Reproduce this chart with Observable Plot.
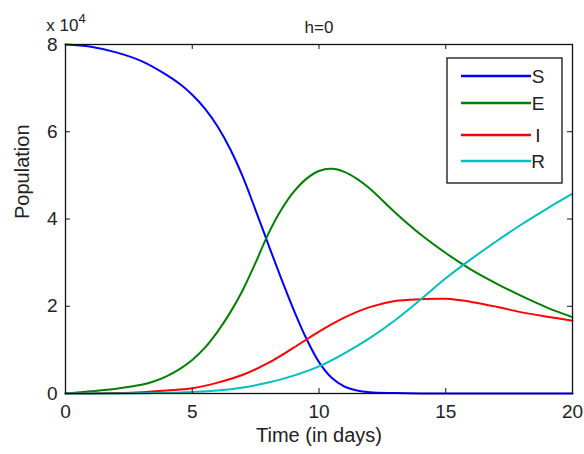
<!DOCTYPE html>
<html>
<head>
<meta charset="utf-8">
<script src="https://cdn.jsdelivr.net/npm/d3@7"></script>
<script src="https://cdn.jsdelivr.net/npm/@observablehq/plot@0.6"></script>
<style>
  html, body { margin: 0; padding: 0; background: #fff; }
  #chart { width: 584px; height: 454px; }
</style>
</head>
<body>
<div id="chart"></div>
<script>
// Time in days and population (in units of 10^4), per series
const tS = [0,1,2,3,4,4.5,5,5.5,6,6.5,7,7.5,8,8.5,9,9.5,10,10.5,11,11.5,12,13,14,16,18,20];
const S  = [8.0,7.95,7.82,7.62,7.3,7.1,6.85,6.53,6.12,5.6,4.96,4.2,3.42,2.65,1.92,1.26,0.72,0.36,0.16,0.07,0.03,0.01,0,0,0,0];
const tE = [0,1,2,3,3.5,4,4.5,5,5.5,6,6.5,7,7.5,8,8.5,9,9.5,10,10.5,11,11.5,12,13,14,15,16,17,18,19,20];
const E  = [0,0.05,0.11,0.2,0.28,0.4,0.56,0.77,1.05,1.42,1.86,2.38,3.0,3.66,4.2,4.62,4.92,5.1,5.15,5.08,4.92,4.7,4.15,3.65,3.22,2.84,2.52,2.23,1.97,1.75];
const tI = [0,1,2,3,4,5,6,7,8,9,10,11,12,13,14,15,16,17,18,19,20];
const I  = [0,0,0.01,0.03,0.07,0.12,0.25,0.43,0.7,1.05,1.42,1.74,1.98,2.12,2.16,2.17,2.1,1.99,1.86,1.76,1.67];
const tR = [0,1,2,3,4,5,6,7,8,9,10,11,12,13,14,15,16,17,18,19,20];
const R  = [0,0,0,0.005,0.015,0.035,0.07,0.14,0.25,0.41,0.62,0.92,1.27,1.68,2.15,2.64,3.08,3.49,3.88,4.24,4.58];

const seriesNames = ["S","E","I","R"];
const seriesColors = ["#0000ff","#008000","#ff0000","#00bfbf"];
const xTicks = [0,5,10,15,20];
const yTicks = [0,2,4,6,8];
const titleText = "h=0";
const xLabel = "Time (in days)";
const yLabel = "Population";

const series = {S: [tS, S], E: [tE, E], I: [tI, I], R: [tR, R]};
const data = seriesNames.flatMap(name => series[name][0].map((t, i) => ({t, v: series[name][1][i], name})));

const W = 584, H = 454;
const mL = 65, mR = 12, mT = 44, mB = 61;
const pw = W - mL - mR, ph = H - mT - mB;
const font = "'Liberation Sans', Arial, sans-serif";

const plot = Plot.plot({
  width: W, height: H,
  marginLeft: mL, marginRight: mR, marginTop: mT, marginBottom: mB,
  style: {fontFamily: font, fontSize: "19px", color: "#222", background: "#fff"},
  x: {domain: [0, 20], ticks: xTicks},
  y: {domain: [0, 8], ticks: yTicks},
  color: {domain: seriesNames, range: seriesColors},
  marks: [
    Plot.line(data, {x: "t", y: "v", z: "name", stroke: "name", strokeWidth: 2, curve: "catmull-rom"}),
    Plot.frame({stroke: "#111", strokeWidth: 1.3}),
    // inward ticks on all four sides
    Plot.tickX(xTicks, {x: d => d, insetTop: ph - 5, stroke: "#111"}),
    Plot.tickX(xTicks, {x: d => d, insetBottom: ph - 5, stroke: "#111"}),
    Plot.tickY(yTicks, {y: d => d, insetRight: pw - 5, stroke: "#111"}),
    Plot.tickY(yTicks, {y: d => d, insetLeft: pw - 5, stroke: "#111"}),
    Plot.axisX({ticks: xTicks, tickSize: 0, tickPadding: 11, label: null, fontSize: 19}),
    Plot.axisY({ticks: yTicks, tickSize: 0, tickPadding: 8, label: null, fontSize: 19}),
    Plot.text([xLabel], {frameAnchor: "bottom", dy: 48, fontSize: 20}),
    Plot.text([yLabel], {frameAnchor: "left", dx: -43, rotate: -90, fontSize: 20}),
    Plot.text([titleText], {frameAnchor: "top", dy: -24, fontSize: 17})
  ]
});
document.getElementById("chart").appendChild(plot);

const svg = d3.select(plot);
// "x 10^4" multiplier
const mult = svg.append("text")
  .attr("x", mL + 1).attr("y", mT - 13)
  .attr("font-family", font).attr("font-size", 17).attr("fill", "#222");
mult.append("tspan").text("x 10");
mult.append("tspan").attr("dy", -8).attr("font-size", 13).text("4");

// Legend
const lg = svg.append("g").attr("font-family", font).attr("font-size", 19).attr("fill", "#222");
const lx = 447, ly = 58, lw = 115, lh = 125;
lg.append("rect").attr("x", lx).attr("y", ly).attr("width", lw).attr("height", lh)
  .attr("fill", "#fff").attr("stroke", "#111").attr("stroke-width", 1.3);
const rowsY = [76, 103, 135, 161];
seriesNames.forEach((name, i) => {
  lg.append("line").attr("x1", lx + 14).attr("x2", lx + 84)
    .attr("y1", rowsY[i]).attr("y2", rowsY[i])
    .attr("stroke", seriesColors[i]).attr("stroke-width", 2.5);
  lg.append("text").attr("x", lx + 91).attr("y", rowsY[i]).attr("dy", "0.36em").text(name);
});
</script>
</body>
</html>
